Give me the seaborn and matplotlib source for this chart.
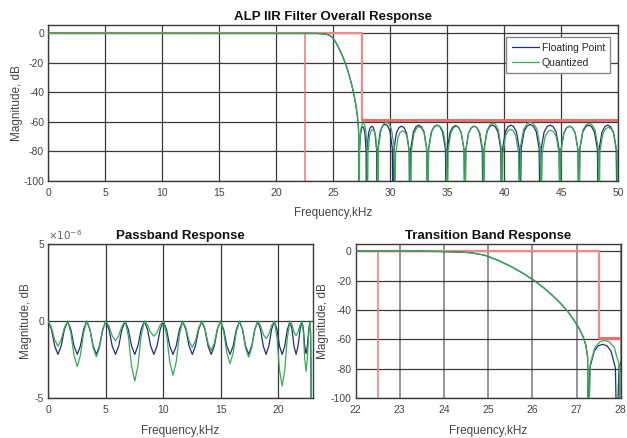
import pandas as pd
import seaborn as sns
import matplotlib.pyplot as plt

# ---- passband (shared frequency grid), magnitude in 1e-6 dB ----
pass_khz = [
    0.00, 0.28, 0.56, 0.84, 1.12, 1.40,
    1.68, 1.96, 2.24, 2.52, 2.79, 3.07,
    3.35, 3.63, 3.90, 4.18, 4.45, 4.73,
    5.00, 5.28, 5.56, 5.84, 6.12, 6.40,
    6.68, 6.96, 7.24, 7.52, 7.79, 8.07,
    8.35, 8.63, 8.90, 9.18, 9.45, 9.73,
    10.00, 10.28, 10.56, 10.84, 11.12, 11.40,
    11.68, 11.96, 12.24, 12.52, 12.79, 13.07,
    13.35, 13.62, 13.89, 14.16, 14.43, 14.70,
    14.97, 15.25, 15.52, 15.80, 16.07, 16.35,
    16.62, 16.89, 17.15, 17.42, 17.68, 17.95,
    18.21, 18.45, 18.69, 18.93, 19.17, 19.41,
    19.65, 19.88, 20.10, 20.33, 20.56, 20.78,
    21.01, 21.19, 21.36, 21.54, 21.71, 21.89,
    22.06, 22.18, 22.29, 22.41, 22.52, 22.64,
    22.75, 22.80, 22.84, 22.87, 22.90,
]
pass_float_udb = [
    0, -0.54, -1.61, -2.15, -1.61, -0.54,
    0, -0.54, -1.61, -2.15, -1.61, -0.54,
    0, -0.54, -1.61, -2.15, -1.61, -0.54,
    0, -0.54, -1.61, -2.15, -1.61, -0.54,
    0, -0.54, -1.61, -2.15, -1.61, -0.54,
    0, -0.54, -1.61, -2.15, -1.61, -0.54,
    0, -0.54, -1.61, -2.15, -1.61, -0.54,
    0, -0.54, -1.61, -2.15, -1.61, -0.54,
    0, -0.54, -1.61, -2.15, -1.61, -0.54,
    0, -0.54, -1.61, -2.15, -1.61, -0.54,
    0, -0.54, -1.61, -2.15, -1.61, -0.54,
    0, -0.54, -1.61, -2.15, -1.61, -0.54,
    0, -0.54, -1.61, -2.15, -1.61, -0.54,
    0, -0.54, -1.61, -2.15, -1.61, -0.54,
    0, -0.54, -1.61, -2.10, -1.61, -0.54,
    0, -0.8, -3.5, -9, -20,
]
pass_quant_udb = [
    0, -0.41, -1.22, -1.62, -1.22, -0.41,
    0, -0.74, -2.21, -2.95, -2.21, -0.74,
    0, -0.58, -1.73, -2.30, -1.73, -0.58,
    0, -0.32, -0.95, -1.27, -0.95, -0.32,
    0, -0.97, -2.91, -3.88, -2.91, -0.97,
    0, -0.24, -0.73, -0.97, -0.73, -0.24,
    0, -0.88, -2.63, -3.50, -2.63, -0.88,
    0, -0.43, -1.28, -1.70, -1.28, -0.43,
    0, -0.48, -1.43, -1.90, -1.43, -0.48,
    0, -0.69, -2.06, -2.75, -2.06, -0.69,
    0, -0.58, -1.75, -2.33, -1.75, -0.58,
    0, -0.28, -0.85, -1.13, -0.85, -0.28,
    0, -1.05, -3.15, -4.20, -3.15, -1.05,
    0, -0.23, -0.70, -0.93, -0.70, -0.23,
    0, -0.81, -2.44, -3.25, -2.44, -0.81,
    0, -0.6, -3, -8, -20,
]

# ---- transition band (both responses coincide), dB ----
trans_khz = [23.0, 23.5, 24.0, 24.3, 24.62, 24.92, 25.22, 25.53, 25.80, 26.03,
             26.26, 26.45, 26.64, 26.79, 26.94, 27.06, 27.15, 27.21, 27.25]
trans_db = [-0.0003, -0.05, -0.25, -0.5, -1.1, -2.7, -6.1, -10.6, -15.2, -19.7,
            -24.9, -29.9, -35.5, -40.5, -46.8, -52.5, -58.2, -63.8, -71.7]

# ---- stopband, dB ----
stop_float_khz = [
    27.27, 27.30, 27.40, 27.49, 27.59, 27.69, 27.78, 27.88,
    27.91, 27.96, 28.10, 28.24, 28.38, 28.52, 28.66, 28.80,
    28.85, 28.92, 29.13, 29.34, 29.55, 29.76, 29.97, 30.18,
    30.25, 30.32, 30.54, 30.77, 30.99, 31.21, 31.43, 31.65,
    31.72, 31.80, 32.03, 32.27, 32.50, 32.73, 32.97, 33.20,
    33.28, 33.36, 33.61, 33.85, 34.10, 34.35, 34.59, 34.84,
    34.92, 35.00, 35.25, 35.49, 35.74, 35.98, 36.22, 36.47,
    36.55, 36.63, 36.87, 37.11, 37.35, 37.59, 37.83, 38.07,
    38.15, 38.23, 38.47, 38.72, 38.96, 39.20, 39.45, 39.69,
    39.77, 39.85, 40.10, 40.34, 40.59, 40.83, 41.07, 41.32,
    41.40, 41.49, 41.75, 42.01, 42.28, 42.54, 42.80, 43.06,
    43.15, 43.24, 43.50, 43.76, 44.03, 44.29, 44.55, 44.81,
    44.90, 44.98, 45.23, 45.48, 45.73, 45.97, 46.22, 46.47,
    46.55, 46.64, 46.89, 47.15, 47.40, 47.66, 47.91, 48.17,
    48.25, 48.33, 48.58, 48.83, 49.08, 49.32, 49.57, 49.82,
    49.90, 50.00,
]
stop_float_db = [
    -130, -79.4, -67.9, -64.3, -63.3, -64.3, -67.9, -79.4,
    -130, -79.0, -67.5, -63.9, -62.9, -63.9, -67.5, -79.0,
    -130, -77.7, -66.2, -62.6, -61.6, -62.6, -66.2, -77.7,
    -130, -79.0, -67.5, -63.9, -62.9, -63.9, -67.5, -79.0,
    -130, -78.3, -66.8, -63.2, -62.2, -63.2, -66.8, -78.3,
    -130, -78.3, -66.8, -63.2, -62.2, -63.2, -66.8, -78.3,
    -130, -78.6, -67.1, -63.5, -62.5, -63.5, -67.1, -78.6,
    -130, -79.0, -67.5, -63.9, -62.9, -63.9, -67.5, -79.0,
    -130, -78.3, -66.8, -63.2, -62.2, -63.2, -66.8, -78.3,
    -130, -78.3, -66.8, -63.2, -62.2, -63.2, -66.8, -78.3,
    -130, -77.9, -66.4, -62.8, -61.8, -62.8, -66.4, -77.9,
    -130, -78.3, -66.8, -63.2, -62.2, -63.2, -66.8, -78.3,
    -130, -79.0, -67.5, -63.9, -62.9, -63.9, -67.5, -79.0,
    -130, -78.3, -66.8, -63.2, -62.2, -63.2, -66.8, -78.3,
    -130, -78.3, -66.8, -63.2, -62.2, -63.2, -66.8, -78.3,
    -130, -79.0,
]
stop_quant_khz = [
    27.27, 27.31, 27.42, 27.53, 27.64, 27.74, 27.85, 27.96,
    28.00, 28.05, 28.18, 28.32, 28.45, 28.59, 28.72, 28.86,
    28.90, 28.98, 29.20, 29.43, 29.65, 29.88, 30.10, 30.33,
    30.40, 30.47, 30.68, 30.88, 31.09, 31.30, 31.50, 31.71,
    31.78, 31.86, 32.08, 32.31, 32.53, 32.76, 32.98, 33.21,
    33.28, 33.37, 33.62, 33.88, 34.14, 34.40, 34.66, 34.91,
    35.00, 35.08, 35.31, 35.54, 35.78, 36.01, 36.24, 36.47,
    36.55, 36.63, 36.88, 37.13, 37.38, 37.62, 37.87, 38.12,
    38.20, 38.28, 38.52, 38.76, 39.00, 39.24, 39.48, 39.72,
    39.80, 39.88, 40.11, 40.34, 40.57, 40.79, 41.02, 41.25,
    41.33, 41.43, 41.71, 42.00, 42.29, 42.58, 42.87, 43.15,
    43.25, 43.33, 43.58, 43.83, 44.08, 44.32, 44.57, 44.82,
    44.90, 44.98, 45.23, 45.48, 45.73, 45.97, 46.22, 46.47,
    46.55, 46.64, 46.90, 47.17, 47.44, 47.70, 47.97, 48.23,
    48.32, 48.40, 48.65, 48.89, 49.14, 49.38, 49.62, 49.87,
    49.95, 50.00,
]
stop_quant_db = [
    -130, -76.7, -65.2, -61.6, -60.6, -61.6, -65.2, -76.7,
    -130, -81.3, -69.8, -66.2, -65.2, -66.2, -69.8, -81.3,
    -130, -76.3, -64.8, -61.2, -60.2, -61.2, -64.8, -76.3,
    -130, -82.1, -70.6, -67.0, -66.0, -67.0, -70.6, -82.1,
    -130, -79.4, -67.9, -64.3, -63.3, -64.3, -67.9, -79.4,
    -130, -78.3, -66.8, -63.2, -62.2, -63.2, -66.8, -78.3,
    -130, -79.1, -67.6, -64.0, -63.0, -64.0, -67.6, -79.1,
    -130, -79.0, -67.5, -63.9, -62.9, -63.9, -67.5, -79.0,
    -130, -76.9, -65.4, -61.8, -60.8, -61.8, -65.4, -76.9,
    -130, -81.1, -69.6, -66.0, -65.0, -66.0, -69.6, -81.1,
    -130, -76.4, -64.9, -61.3, -60.3, -61.3, -64.9, -76.4,
    -130, -81.7, -70.2, -66.6, -65.6, -66.6, -70.2, -81.7,
    -130, -79.0, -67.5, -63.9, -62.9, -63.9, -67.5, -79.0,
    -130, -77.1, -65.6, -62.0, -61.0, -62.0, -65.6, -77.1,
    -130, -79.8, -68.3, -64.7, -63.7, -64.7, -68.3, -79.8,
    -130, -90.0,
]

# filter spec (mask)
f_pass = 22.5
f_stop = 27.5
a_stop = -59

labels = ['Floating Point', 'Quantized']
colors = {'Floating Point': '#262a7a', 'Quantized': '#36ad50'}

df = pd.concat([
    pd.DataFrame({'khz': pass_khz + trans_khz + stop_float_khz,
                  'db': [v * 1e-6 for v in pass_float_udb] + trans_db + stop_float_db,
                  'filter': labels[0]}),
    pd.DataFrame({'khz': pass_khz + trans_khz + stop_quant_khz,
                  'db': [v * 1e-6 for v in pass_quant_udb] + trans_db + stop_quant_db,
                  'filter': labels[1]}),
], ignore_index=True)

sns.set_theme(style='white')
plt.rcParams['font.family'] = ['Liberation Sans Narrow', 'Liberation Sans', 'DejaVu Sans']
plt.rcParams['axes.unicode_minus'] = False

fig = plt.figure(figsize=(6.27, 4.38), dpi=100)
ax_all = fig.add_axes([0.077, 0.587, 0.909, 0.355])
ax_pb = fig.add_axes([0.077, 0.0906, 0.422, 0.352])
ax_tb = fig.add_axes([0.567, 0.0906, 0.423, 0.352])

mask_red = '#f08a8a'


def draw_mask(ax, x0, x1):
    ax.plot([x0, f_stop], [0, 0], color=mask_red, lw=1.6, zorder=2)
    ax.plot([f_pass, f_pass], [0, -100], color='#ee7878', lw=1.1, zorder=2)
    ax.plot([f_stop, f_stop], [0, a_stop], color=mask_red, lw=1.6, zorder=2)
    ax.plot([f_stop, x1], [a_stop, a_stop], color='#ec6f6f', lw=2.2, zorder=2)


def style(ax, title, ylab_x, xlab_y):
    ax.set_title(title, fontsize=9.5, fontweight='bold', color='#111111', pad=4)
    ax.set_xlabel('Frequency,kHz', fontsize=8.5, color='#444444')
    ax.set_ylabel('Magnitude, dB', fontsize=8.5, color='#444444')
    ax.xaxis.set_label_coords(0.5, xlab_y)
    ax.yaxis.set_label_coords(ylab_x, 0.5)
    ax.grid(True, color='#3a3a3a', lw=0.9, zorder=0)
    ax.set_axisbelow(True)
    ax.tick_params(length=0, labelsize=7.5, colors='#444444')
    ax.tick_params(axis='x', pad=5)
    ax.tick_params(axis='y', pad=3)
    for s in ax.spines.values():
        s.set_color('#3a3a3a')
        s.set_linewidth(1.0)


# overall response
draw_mask(ax_all, 0, 50)
sns.lineplot(data=df, x='khz', y='db', hue='filter', palette=colors,
             estimator=None, sort=False, lw=0.9, ax=ax_all, zorder=3)
ax_all.set_xlim(0, 50)
ax_all.set_ylim(-100, 5.4)
ax_all.set_xticks(range(0, 51, 5))
ax_all.set_yticks(range(-100, 1, 20))
style(ax_all, 'ALP IIR Filter Overall Response', -0.044, -0.165)
h, l = ax_all.get_legend_handles_labels()
ax_all.legend(h, l, loc='upper right', fontsize=7.5, frameon=True, fancybox=False,
              edgecolor='#888888', framealpha=1, handlelength=2.6, handletextpad=0.3,
              borderpad=0.5, labelspacing=0.5, borderaxespad=0,
              bbox_to_anchor=(0.986, 0.923))

# passband
sns.lineplot(data=df, x='khz', y='db', hue='filter', palette=colors,
             estimator=None, sort=False, lw=0.9, ax=ax_pb, legend=False, zorder=3)
ax_pb.set_xlim(0, 23)
ax_pb.set_ylim(-5e-6, 5e-6)
ax_pb.set_xticks(range(0, 21, 5))
ax_pb.set_yticks([-5e-6, 0, 5e-6])
ax_pb.set_yticklabels(['-5', '0', '5'])
ax_pb.text(0.0, 1.015, r'$\times 10^{-6}$', transform=ax_pb.transAxes,
           fontsize=7.5, color='#666666', ha='left', va='bottom')
style(ax_pb, 'Passband Response', -0.062, -0.17)

# transition band
draw_mask(ax_tb, 22, 28)
sns.lineplot(data=df, x='khz', y='db', hue='filter', palette=colors,
             estimator=None, sort=False, lw=0.9, ax=ax_tb, legend=False, zorder=3)
ax_tb.set_xlim(22, 28)
ax_tb.set_ylim(-100, 4.8)
ax_tb.set_xticks(range(22, 29))
ax_tb.set_yticks(range(-100, 1, 20))
style(ax_tb, 'Transition Band Response', -0.1, -0.17)
ax_tb.grid(True, axis='x', color='#8c8c8c', lw=1.3)

fig.savefig('out.png', dpi=100)
plt.close(fig)
